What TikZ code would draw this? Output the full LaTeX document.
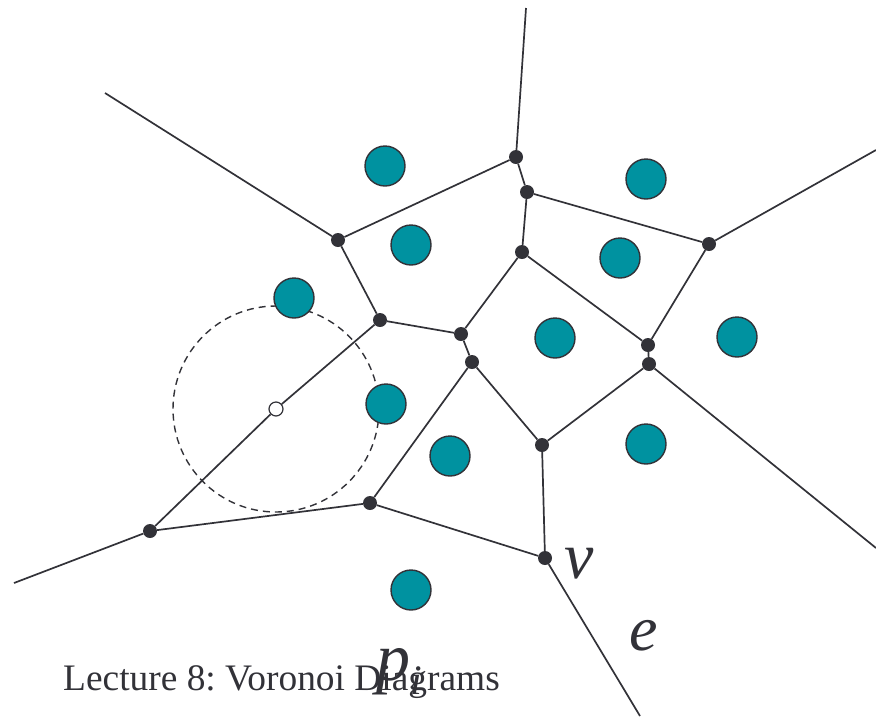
\documentclass[tikz,border=0pt]{standalone}
\usepackage{fontspec}
\setmainfont{Liberation Serif}
\definecolor{edgec}{RGB}{50,50,56}
\definecolor{sitec}{RGB}{0,146,160}
\begin{document}
\frenchspacing
\begin{tikzpicture}[x=1pt,y=-1pt,
  vedge/.style={draw=edgec,line width=1.7pt},
  vtx/.style={circle,fill=edgec,inner sep=0pt,minimum size=14pt},
  site/.style={circle,fill=sitec,draw=edgec,line width=1.4pt,inner sep=0pt,minimum size=40pt},
  lbl/.style={text=edgec,inner sep=0pt}]
\useasboundingbox (0,0) rectangle (876,716);
% Voronoi vertices
\node[vtx] (A) at (516,157) {};
\node[vtx] (B) at (527,192) {};
\node[vtx] (C) at (338,240) {};
\node[vtx] (D) at (522,252) {};
\node[vtx] (E) at (709,244) {};
\node[vtx] (F) at (380,320) {};
\node[vtx] (G) at (461,334) {};
\node[vtx] (H) at (648,345) {};
\node[vtx] (I) at (472,362) {};
\node[vtx] (J) at (649,364) {};
\node[vtx] (K) at (542,445) {};
\node[vtx] (L) at (370,503) {};
\node[vtx] (M) at (150,531) {};
\node[vtx] (N) at (545,558) {};
% free ends
\coordinate (tA) at (526,8);
\coordinate (tC) at (105,93);
\coordinate (tE) at (876,150);
\coordinate (tJ) at (876,548);
\coordinate (tM) at (14,583);
\coordinate (tN) at (640,716);
% empty circle centre
\node[circle,draw=edgec,fill=white,line width=1.2pt,inner sep=0pt,minimum size=14pt] (Q) at (276,409) {};
% dashed largest empty circle
\draw[edgec,line width=1.4pt,dash pattern=on 7pt off 5pt] (Q.center) circle[radius=103];
% edges
\draw[vedge] (A) -- (tA);
\draw[vedge] (A) -- (C);
\draw[vedge] (A) -- (B);
\draw[vedge] (B) -- (D);
\draw[vedge] (B) -- (E);
\draw[vedge] (C) -- (tC);
\draw[vedge] (C) -- (F);
\draw[vedge] (F) -- (G);
\draw[vedge] (F) -- (Q);
\draw[vedge] (Q) -- (M);
\draw[vedge] (G) -- (D);
\draw[vedge] (G) -- (I);
\draw[vedge] (D) -- (H);
\draw[vedge] (E) -- (tE);
\draw[vedge] (E) -- (H);
\draw[vedge] (H) -- (J);
\draw[vedge] (J) -- (K);
\draw[vedge] (J) -- (tJ);
\draw[vedge] (I) -- (K);
\draw[vedge] (I) -- (L);
\draw[vedge] (K) -- (N);
\draw[vedge] (L) -- (N);
\draw[vedge] (L) -- (M);
\draw[vedge] (M) -- (tM);
\draw[vedge] (N) -- (tN);
% sites
\node[site] (s1) at (385,166) {};
\node[site] (s2) at (646,179) {};
\node[site] (s3) at (411,245) {};
\node[site] (s4) at (620,258) {};
\node[site] (s5) at (294,298) {};
\node[site] (s6) at (555,338) {};
\node[site] (s7) at (737,337) {};
\node[site] (s8) at (386,404) {};
\node[site] (s9) at (646,444) {};
\node[site] (s10) at (450,456) {};
\node[site] (s11) at (411,590) {};
% labels
\node[lbl,anchor=base west] (lv) at (564,578) {\fontsize{66}{70}\selectfont\itshape v};
\node[lbl,anchor=base west] (le) at (629,650) {\fontsize{64}{70}\selectfont\itshape e};
\node[lbl,anchor=base west] (title) at (63,690) {\fontsize{37.4}{40}\selectfont Lecture 8: Voronoi Diagrams};
\node[lbl,anchor=base west] (lp) at (376,680) {\fontsize{68}{70}\selectfont\itshape p\raisebox{-14pt}{\fontsize{42}{44}\selectfont i}};
\end{tikzpicture}
\end{document}
